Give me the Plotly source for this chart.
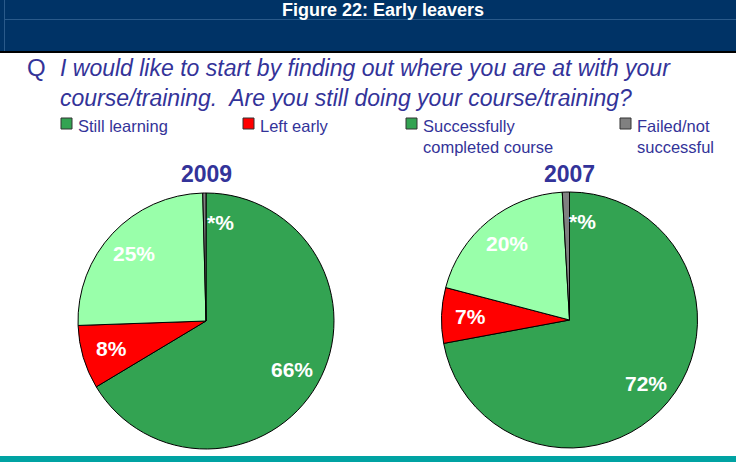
import math
import plotly.graph_objects as go

W, H = 736, 462

categories = ["Successfully completed course", "Left early", "Still learning", "Failed/not successful"]
values_2009 = [66, 8, 25, 0.4]
labels_2009 = ["66%", "8%", "25%", "*%"]
values_2007 = [72, 7, 20, 0.9]
labels_2007 = ["72%", "7%", "20%", "*%"]
slice_colors = ["#33a352", "#ff0000", "#99ffaa", "#808080"]

legend_names = ["Still learning", "Left early", "Successfully<br>completed course", "Failed/not<br>successful"]
legend_colors = ["#33a352", "#ff0000", "#33a352", "#808080"]

title_text = "Figure 22: Early leavers"
question_q = "Q"
question_text = ("I would like to start by finding out where you are at with your<br>"
                 "course/training.  Are you still doing your course/training?")

TEXT_COL = "#333399"
FONT = "Liberation Sans, Arial, sans-serif"


def px(x):
    return x / W


def py(y):
    return 1 - y / H


fig = go.Figure()

pies = [
    ("2009", values_2009, labels_2009, (78, 334), (193, 449)),
    ("2007", values_2007, labels_2007, (441, 698), (192, 448)),
]

annotations = []
shapes = []

for year, vals, labs, (x0, x1), (y0, y1) in pies:
    fig.add_trace(go.Pie(
        values=vals,
        labels=categories,
        sort=False,
        direction="clockwise",
        rotation=0,
        marker=dict(colors=slice_colors, line=dict(color="#000000", width=1)),
        textinfo="none",
        hoverinfo="label+value",
        showlegend=False,
        domain=dict(x=[px(x0), px(x1)], y=[py(y1), py(y0)]),
    ))
    cx = (x0 + x1) / 2
    cy = (y0 + y1) / 2
    r = (x1 - x0) / 2
    total = sum(vals)
    cum = 0
    for v, lab in zip(vals, labs):
        mid = (cum + v / 2) / total * 2 * math.pi
        cum += v
        lx = cx + 0.77 * r * math.sin(mid)
        ly = cy - 0.77 * r * math.cos(mid)
        small = v / total < 0.02
        annotations.append(dict(
            x=px(lx), y=py(ly), xref="paper", yref="paper",
            text=f"<b>{lab}</b>", showarrow=False,
            xanchor="left" if small else "center", yanchor="middle",
            font=dict(family=FONT, size=21, color="white"),
        ))
    annotations.append(dict(
        x=px(cx), y=py(174), xref="paper", yref="paper",
        text=f"<b>{year}</b>", showarrow=False,
        xanchor="center", yanchor="middle",
        font=dict(family=FONT, size=23, color=TEXT_COL),
    ))

# title bar
shapes.append(dict(type="rect", xref="paper", yref="paper", x0=0, x1=1, y0=py(52), y1=1,
                   fillcolor="#003366", line=dict(width=0), layer="below"))
shapes.append(dict(type="line", xref="paper", yref="paper", x0=px(4), x1=1, y0=py(19.5), y1=py(19.5),
                   line=dict(color="#2a5a8a", width=1)))
shapes.append(dict(type="line", xref="paper", yref="paper", x0=px(4.5), x1=px(4.5), y0=py(51), y1=py(0),
                   line=dict(color="#2a5a8a", width=1)))
shapes.append(dict(type="line", xref="paper", yref="paper", x0=0, x1=1, y0=py(52), y1=py(52),
                   line=dict(color="#000000", width=2)))
# bottom bar
shapes.append(dict(type="rect", xref="paper", yref="paper", x0=0, x1=1, y0=0, y1=py(456),
                   fillcolor="#00a3a3", line=dict(width=0)))

annotations.append(dict(
    x=px(383), y=py(10.5), xref="paper", yref="paper", text=f"<b>{title_text}</b>",
    showarrow=False, xanchor="center", yanchor="middle",
    font=dict(family=FONT, size=18, color="white"),
))

annotations.append(dict(
    x=px(25), y=py(67), xref="paper", yref="paper", text=question_q,
    showarrow=False, xanchor="left", yanchor="middle",
    font=dict(family=FONT, size=24, color=TEXT_COL),
))
annotations.append(dict(
    x=px(58), y=py(52.5), xref="paper", yref="paper", text=f"<i>{question_text}</i>",
    showarrow=False, xanchor="left", yanchor="top", align="left",
    font=dict(family=FONT, size=23, color=TEXT_COL),
))

# legend
legend_x = [61, 243, 406, 620]
for lx, name, col in zip(legend_x, legend_names, legend_colors):
    shapes.append(dict(type="rect", xref="paper", yref="paper",
                       x0=px(lx), x1=px(lx + 11), y0=py(129), y1=py(118),
                       fillcolor=col, line=dict(color="#333333", width=1)))
    annotations.append(dict(
        x=px(lx + 15), y=py(115), xref="paper", yref="paper", text=name,
        showarrow=False, xanchor="left", yanchor="top", align="left",
        font=dict(family=FONT, size=16.5, color=TEXT_COL),
    ))

fig.update_layout(
    width=W, height=H,
    margin=dict(l=0, r=0, t=0, b=0),
    paper_bgcolor="white",
    plot_bgcolor="white",
    shapes=shapes,
    annotations=annotations,
    showlegend=False,
)

fig.write_html("out.html")
